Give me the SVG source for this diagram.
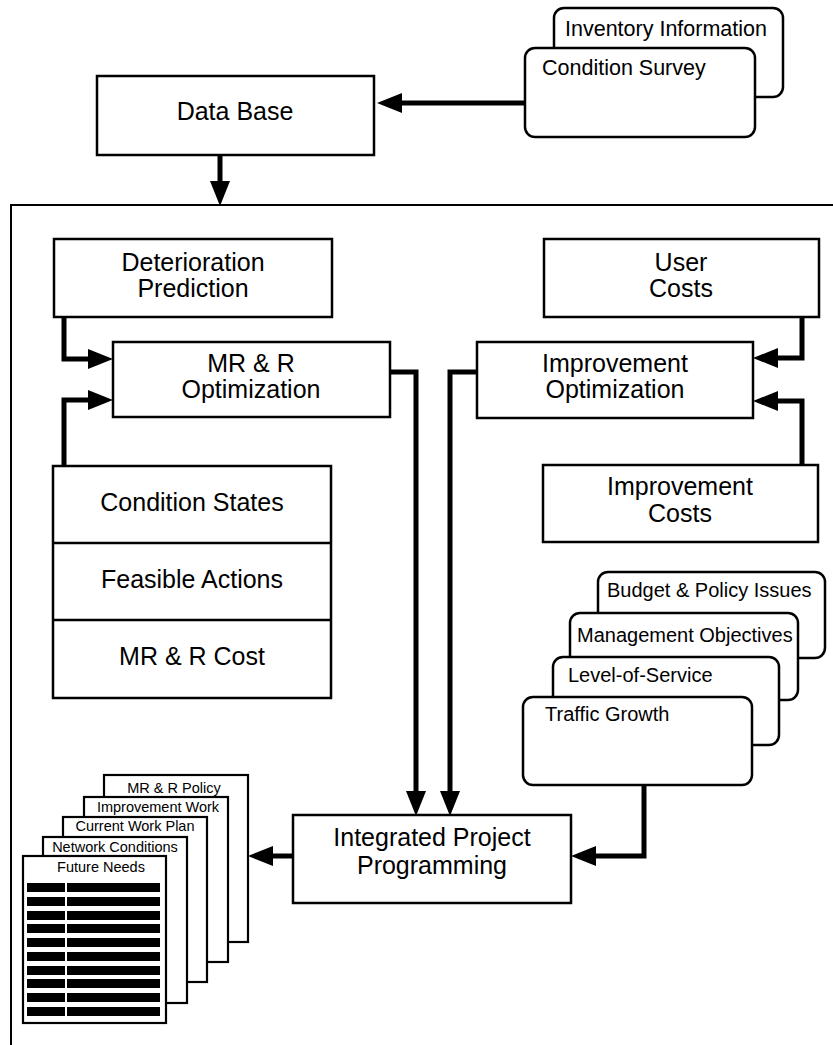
<svg xmlns="http://www.w3.org/2000/svg" width="833" height="1045" viewBox="0 0 833 1045">
<style>
.box{fill:#fff;stroke:#000;stroke-width:2.5}
.card{fill:#fff;stroke:#000;stroke-width:2.5}
.page{fill:#fff;stroke:#000;stroke-width:2.2}
.frame{fill:none;stroke:#000;stroke-width:2}
.conn{fill:none;stroke:#000;stroke-width:5;stroke-linejoin:miter}
.t{font-family:"Liberation Sans",Arial,Helvetica,sans-serif;font-size:25px;fill:#000;text-anchor:middle}
.c{font-family:"Liberation Sans",Arial,Helvetica,sans-serif;font-size:20px;fill:#000}
.c2{font-family:"Liberation Sans",Arial,Helvetica,sans-serif;font-size:21.5px;fill:#000}
.p{font-family:"Liberation Sans",Arial,Helvetica,sans-serif;font-size:14.5px;fill:#000;text-anchor:middle}
.bar{fill:#000}
</style>
<defs>
<marker id="ah" markerUnits="userSpaceOnUse" markerWidth="25" markerHeight="20" refX="0" refY="10" orient="auto" overflow="visible">
<path d="M0,0 L25,10 L0,20 z" fill="#000"/>
</marker>
</defs>
<rect x="0" y="0" width="833" height="1045" fill="#fff"/>

<g id="frame">
<path class="frame" d="M11,1045 L11,205 L833,205"/>
</g>

<g id="inventory-information">
<rect class="card" x="554" y="8" width="229" height="89" rx="10"/>
<text class="c2" x="565" y="36">Inventory Information</text>
</g>
<g id="condition-survey">
<rect class="card" x="525" y="48" width="230" height="89" rx="10"/>
<text class="c2" x="542" y="75">Condition Survey</text>
</g>

<g id="data-base">
<rect class="box" x="97" y="76" width="277" height="79"/>
<text class="t" x="235" y="120">Data Base</text>
</g>

<g id="deterioration-prediction">
<rect class="box" x="54" y="239" width="278" height="78"/>
<text class="t" x="193" y="271">Deterioration</text>
<text class="t" x="193" y="297">Prediction</text>
</g>

<g id="mrr-optimization">
<rect class="box" x="113" y="342" width="277" height="75"/>
<text class="t" x="251" y="372">MR &amp; R</text>
<text class="t" x="251" y="398">Optimization</text>
</g>

<g id="user-costs">
<rect class="box" x="544" y="239" width="275" height="78"/>
<text class="t" x="681" y="271">User</text>
<text class="t" x="681" y="297">Costs</text>
</g>

<g id="improvement-optimization">
<rect class="box" x="477" y="342" width="276" height="76"/>
<text class="t" x="615" y="372">Improvement</text>
<text class="t" x="615" y="398">Optimization</text>
</g>

<g id="improvement-costs">
<rect class="box" x="543" y="465" width="275" height="77"/>
<text class="t" x="680" y="495">Improvement</text>
<text class="t" x="680" y="522">Costs</text>
</g>

<g id="condition-stack">
<rect class="box" x="53" y="466" width="278" height="232"/>
<line x1="53" y1="543" x2="331" y2="543" stroke="#000" stroke-width="2.5"/>
<line x1="53" y1="620" x2="331" y2="620" stroke="#000" stroke-width="2.5"/>
<text class="t" x="192" y="511">Condition States</text>
<text class="t" x="192" y="588">Feasible Actions</text>
<text class="t" x="192" y="665">MR &amp; R Cost</text>
</g>

<g id="budget-policy">
<rect class="card" x="598" y="572" width="227" height="86" rx="10"/>
<text class="c" x="607" y="597">Budget &amp; Policy Issues</text>
</g>
<g id="management-objectives">
<rect class="card" x="570" y="613" width="228" height="87" rx="10"/>
<text class="c" x="577" y="642">Management Objectives</text>
</g>
<g id="level-of-service">
<rect class="card" x="553" y="657" width="226" height="88" rx="10"/>
<text class="c" x="568" y="682">Level-of-Service</text>
</g>
<g id="traffic-growth">
<rect class="card" x="523" y="697" width="229" height="88" rx="10"/>
<text class="c" x="545" y="721">Traffic Growth</text>
</g>

<g id="integrated-project-programming">
<rect class="box" x="293" y="815" width="278" height="88"/>
<text class="t" x="432" y="846">Integrated Project</text>
<text class="t" x="432" y="874">Programming</text>
</g>

<g id="reports">
<rect class="page" x="104" y="775" width="144" height="167"/>
<text class="p" x="174" y="793">MR &amp; R Policy</text>
<rect class="page" x="84" y="797" width="144" height="165"/>
<text class="p" x="158" y="812">Improvement Work</text>
<rect class="page" x="63" y="817" width="144" height="165"/>
<text class="p" x="135" y="831">Current Work Plan</text>
<rect class="page" x="43" y="837" width="144" height="166"/>
<text class="p" x="115" y="852">Network Conditions</text>
<rect class="page" x="23" y="856" width="143" height="167"/>
<text class="p" x="101" y="872">Future Needs</text>
<g class="bar">
<rect x="27" y="883" width="38" height="9"/><rect x="67" y="883" width="93" height="9"/>
<rect x="27" y="897" width="38" height="9"/><rect x="67" y="897" width="93" height="9"/>
<rect x="27" y="911" width="38" height="9"/><rect x="67" y="911" width="93" height="9"/>
<rect x="27" y="924" width="38" height="9"/><rect x="67" y="924" width="93" height="9"/>
<rect x="27" y="938" width="38" height="9"/><rect x="67" y="938" width="93" height="9"/>
<rect x="27" y="952" width="38" height="9"/><rect x="67" y="952" width="93" height="9"/>
<rect x="27" y="966" width="38" height="9"/><rect x="67" y="966" width="93" height="9"/>
<rect x="27" y="979" width="38" height="9"/><rect x="67" y="979" width="93" height="9"/>
<rect x="27" y="993" width="38" height="9"/><rect x="67" y="993" width="93" height="9"/>
<rect x="27" y="1007" width="38" height="9"/><rect x="67" y="1007" width="93" height="9"/>
</g>
</g>

<g id="connectors">
<path class="conn" marker-end="url(#ah)" d="M525,103 L402,103"/>
<path class="conn" marker-end="url(#ah)" d="M220,155 L220,181"/>
<path class="conn" marker-end="url(#ah)" d="M64,317 L64,359 L88,359"/>
<path class="conn" marker-end="url(#ah)" d="M64,466 L64,400 L88,400"/>
<path class="conn" marker-end="url(#ah)" d="M390,372 L416,372 L416,791"/>
<path class="conn" marker-end="url(#ah)" d="M477,372 L450,372 L450,791"/>
<path class="conn" marker-end="url(#ah)" d="M802,317 L802,358 L778,358"/>
<path class="conn" marker-end="url(#ah)" d="M802,465 L802,401 L778,401"/>
<path class="conn" marker-end="url(#ah)" d="M644,785 L644,856 L596,856"/>
<path class="conn" marker-end="url(#ah)" d="M293,856 L273,856"/>
</g>
</svg>
